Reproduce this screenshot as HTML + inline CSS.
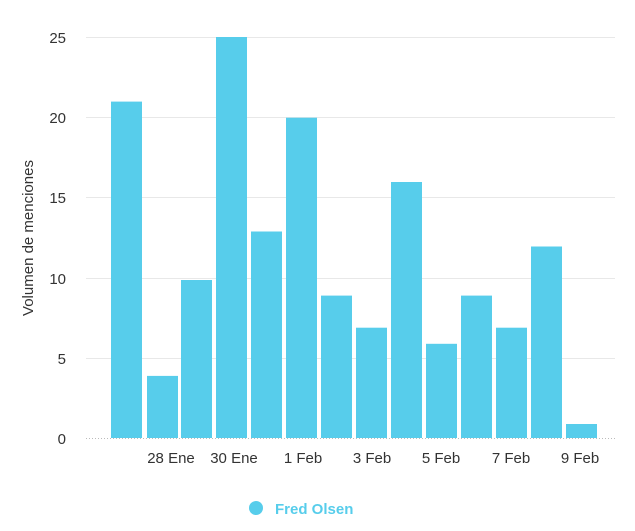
<!DOCTYPE html>
<html><head><meta charset="utf-8"><style>
body{margin:0;background:#fff;width:635px;height:526px;overflow:hidden}
text{font-family:"Liberation Sans",sans-serif}
</style></head><body>
<svg width="635" height="526" xmlns="http://www.w3.org/2000/svg">
<g stroke="#e8e8e8" stroke-width="1">
<line x1="86" x2="615" y1="37.5" y2="37.5"/>
<line x1="86" x2="615" y1="117.5" y2="117.5"/>
<line x1="86" x2="615" y1="197.5" y2="197.5"/>
<line x1="86" x2="615" y1="278.5" y2="278.5"/>
<line x1="86" x2="615" y1="358.5" y2="358.5"/>
</g>
<line x1="86" x2="615" y1="438.5" y2="438.5" stroke="#bbb" stroke-dasharray="1,2"/>
<g font-size="15" fill="#333" text-anchor="end">
<text x="66" y="43">25</text><text x="66" y="123">20</text><text x="66" y="203">15</text>
<text x="66" y="284">10</text><text x="66" y="364">5</text><text x="66" y="444">0</text>
</g>
<text transform="translate(33,238) rotate(-90)" font-size="15" fill="#333" text-anchor="middle">Volumen de menciones</text>
<g fill="#57cdeb">
<rect x="111" y="101.6" width="31" height="336.4"/>
<rect x="147" y="375.9" width="31" height="62.1"/>
<rect x="181" y="280" width="31" height="158"/>
<rect x="216" y="37" width="31" height="401"/>
<rect x="251" y="231.5" width="31" height="206.5"/>
<rect x="286" y="117.7" width="31" height="320.3"/>
<rect x="321" y="295.6" width="31" height="142.4"/>
<rect x="356" y="327.7" width="31" height="110.3"/>
<rect x="391" y="182" width="31" height="256"/>
<rect x="426" y="343.8" width="31" height="94.2"/>
<rect x="461" y="295.6" width="31" height="142.4"/>
<rect x="496" y="327.7" width="31" height="110.3"/>
<rect x="531" y="246.5" width="31" height="191.5"/>
<rect x="566" y="424" width="31" height="14"/>
</g>
<g font-size="15" fill="#333" text-anchor="middle">
<text x="171" y="463">28 Ene</text><text x="234" y="463">30 Ene</text>
<text x="303" y="463">1 Feb</text><text x="372" y="463">3 Feb</text>
<text x="441" y="463">5 Feb</text><text x="511" y="463">7 Feb</text>
<text x="580" y="463">9 Feb</text>
</g>
<circle cx="256" cy="508" r="7" fill="#57cdeb"/>
<text x="275" y="514" font-size="15" font-weight="bold" fill="#57cdeb">Fred Olsen</text>
</svg>
</body></html>
